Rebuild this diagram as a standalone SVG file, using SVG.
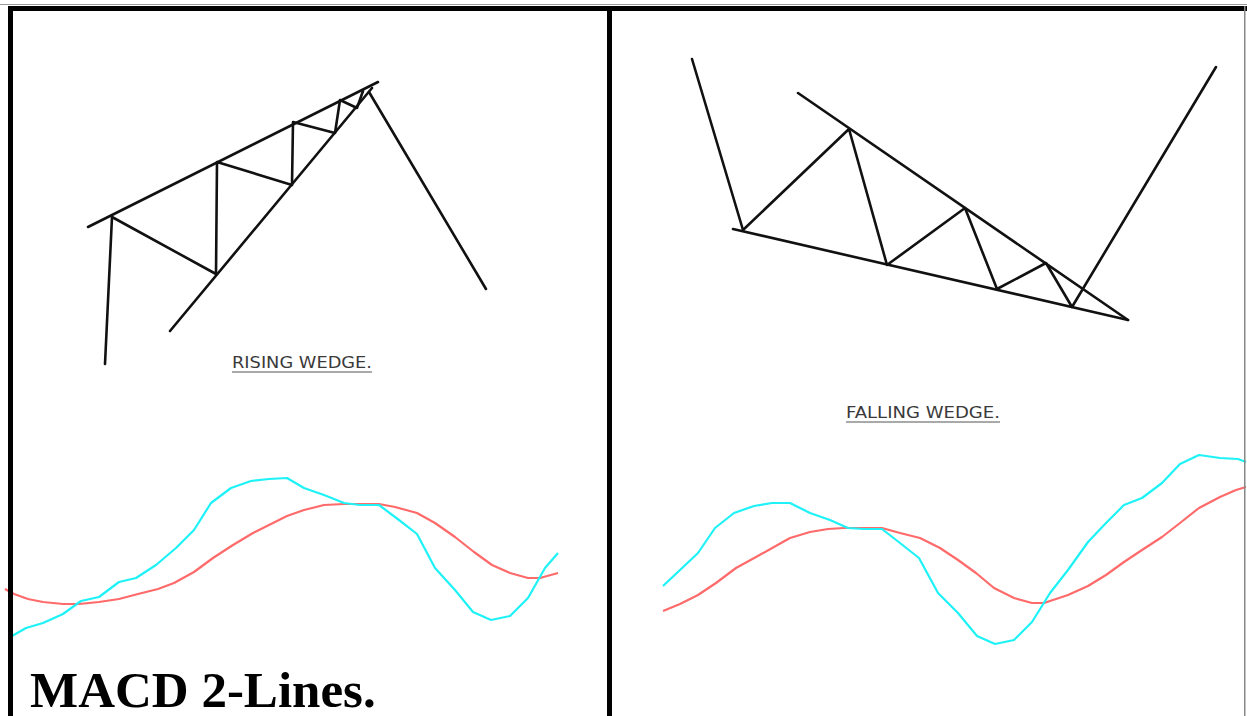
<svg xmlns="http://www.w3.org/2000/svg" width="1247" height="716" viewBox="0 0 1247 716">
<style>
.w{fill:none;stroke:#111;stroke-width:2.6;stroke-linecap:round;stroke-linejoin:round}
.cy{fill:none;stroke:#1ef2f7;stroke-width:2.2;stroke-linejoin:round}
.rd{fill:none;stroke:#ff6a6a;stroke-width:2.2;stroke-linejoin:round}
.cap{font-family:"DejaVu Sans","Liberation Sans",sans-serif;font-size:15px;fill:#3a3a3a}
.ul{stroke:#555;stroke-width:1.2}
</style>
<rect width="1247" height="716" fill="#fff"/>
<g id="macd-left">
<polyline class="rd" points="5,589 14,594 28,599 43,602 63,604 79,604 99,602 119,599 138,594 158,589 174,583 194,572 213,558 233,545 253,533 269,525 287,516 304,510 324,505 344,504 379,504 395,507 417,513 435,523 455,537 474,552 492,565 510,573 528,578 540,578 558,573"/>
<polyline class="cy" points="12,636 26,628 43,623 63,614 81,601 99,597 119,582 136,578 156,565 176,548 194,530 211,503 231,488 251,481 269,479 287,478 304,488 324,495 344,503 360,505 379,505 399,520 417,534 435,568 455,590 473,612 491,620 510,616 528,598 545,568 558,553"/>
</g>
<g id="macd-right">
<polyline class="rd" points="663,611 680,604 698,595 716,583 736,568 756,557 774,547 790,538 810,532 828,529 844,528 882,528 900,533 920,538 940,548 958,560 976,573 994,588 1014,598 1032,603 1044,603 1068,595 1088,586 1106,575 1124,562 1142,550 1162,537 1180,523 1199,508 1220,497 1236,490 1246,487"/>
<polyline class="cy" points="663,586 680,570 698,553 715,528 734,513 754,506 772,503 790,503 810,513 830,520 848,528 864,529 882,529 900,543 919,558 938,593 958,613 977,636 995,644 1014,640 1032,622 1050,593 1068,570 1088,542 1106,523 1124,505 1142,498 1162,483 1180,464 1199,455 1220,458 1238,459 1246,462"/>
</g>
<g id="frame">
<rect x="0" y="4" width="1247" height="1" fill="#999"/>
<rect x="8" y="6" width="1239" height="5" fill="#000"/>
<rect x="8" y="6" width="5" height="710" fill="#000"/>
<rect x="607" y="6" width="5" height="710" fill="#000"/>
<rect x="1244" y="6" width="1.5" height="710" fill="#888"/>
</g>
<g id="rising-wedge">
<line class="w" x1="88" y1="227" x2="378" y2="82"/>
<line class="w" x1="170" y1="331" x2="372" y2="88"/>
<polyline class="w" points="105,364 112,217 216,274 217,162 292,185 293,122 335,133 340,100 357,108 363,91"/>
<line class="w" x1="369" y1="92" x2="486" y2="289"/>
<text class="cap" x="232" y="368" textLength="140" lengthAdjust="spacingAndGlyphs">RISING WEDGE.</text>
<line class="ul" x1="232" y1="372" x2="372" y2="372"/>
</g>
<g id="falling-wedge">
<line class="w" x1="692" y1="59" x2="743" y2="230"/>
<line class="w" x1="733" y1="229" x2="1128" y2="320"/>
<line class="w" x1="798" y1="93" x2="1128" y2="320"/>
<polyline class="w" points="743,230 849,129 887,265 965,208 997,289 1046,263 1072,307 1216,67"/>
<text class="cap" x="846" y="418" textLength="154" lengthAdjust="spacingAndGlyphs">FALLING WEDGE.</text>
<line class="ul" x1="846" y1="422" x2="1000" y2="422"/>
</g>
<g id="title">
<text x="30" y="707" font-family="'Liberation Serif','Times New Roman',serif" font-weight="bold" font-size="51" fill="#000">MACD 2-Lines.</text>
</g>
</svg>
